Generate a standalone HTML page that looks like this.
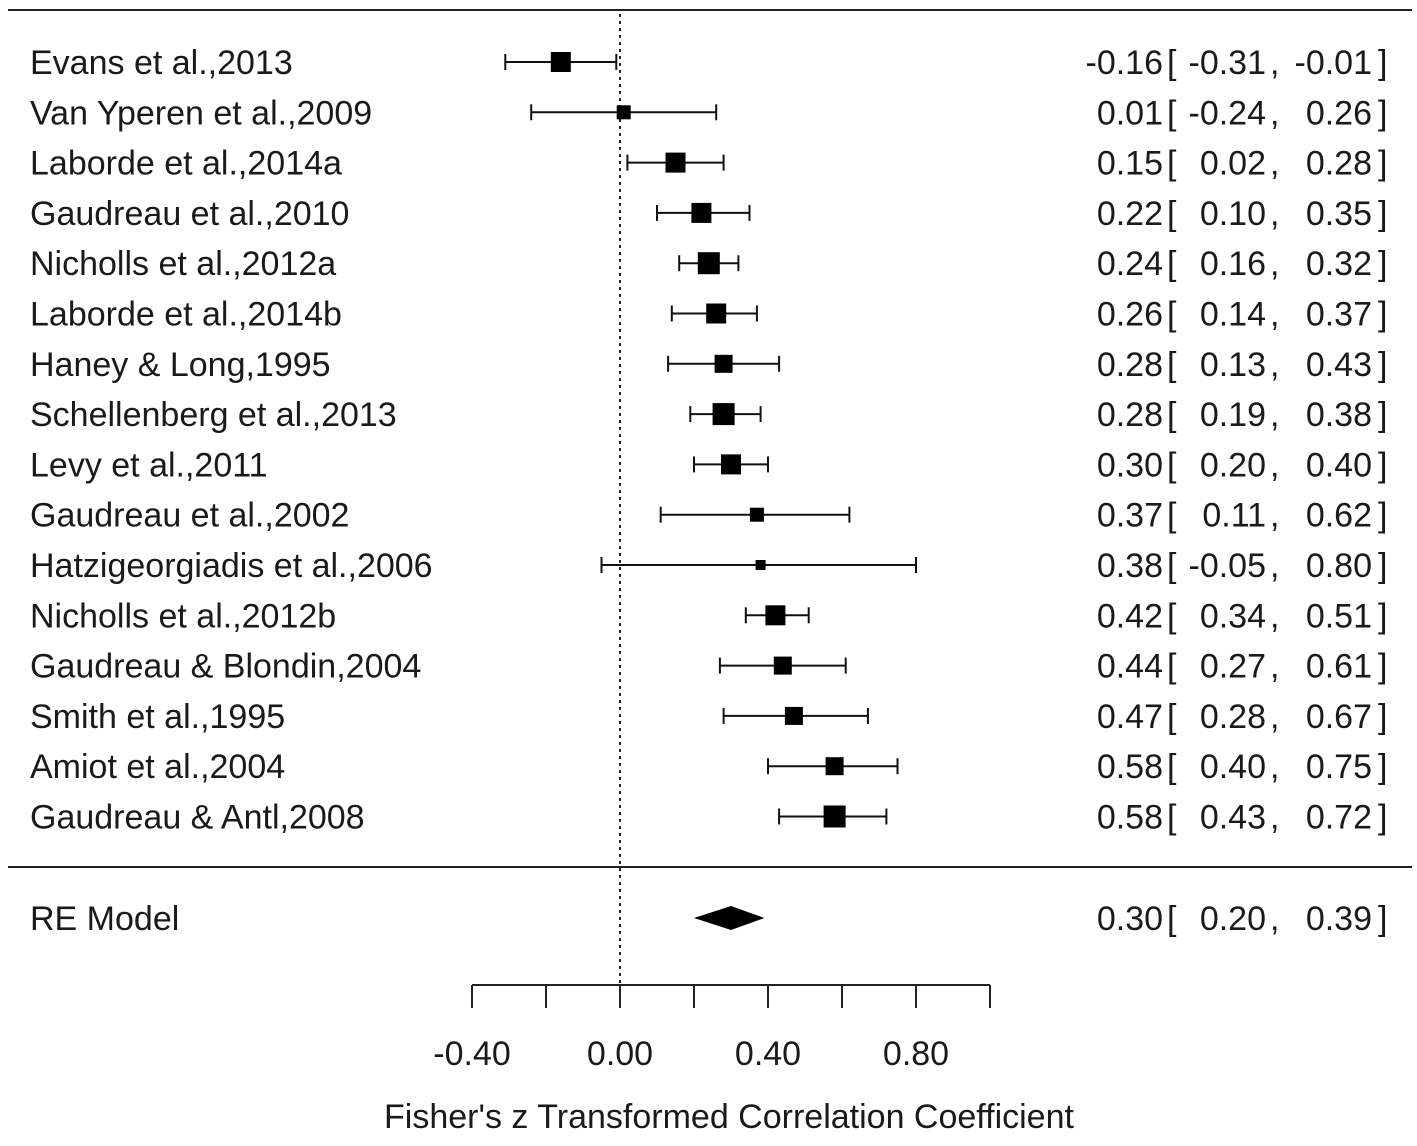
<!DOCTYPE html>
<html><head><meta charset="utf-8"><style>
html,body{margin:0;padding:0;background:#fff;}
svg text{font-family:"Liberation Sans",Arial,sans-serif;fill:#1a1a1a;}
</style></head><body>
<svg id="chart" width="1417" height="1141" viewBox="0 0 1417 1141" xmlns="http://www.w3.org/2000/svg">
<line x1="8" y1="10" x2="1412" y2="10" stroke="#222" stroke-width="2"/>
<line x1="8" y1="867" x2="1412" y2="867" stroke="#222" stroke-width="2"/>
</svg>
<script>
const studies=["Evans et al.,2013","Van Yperen et al.,2009","Laborde et al.,2014a","Gaudreau et al.,2010","Nicholls et al.,2012a","Laborde et al.,2014b","Haney & Long,1995","Schellenberg et al.,2013","Levy et al.,2011","Gaudreau et al.,2002","Hatzigeorgiadis et al.,2006","Nicholls et al.,2012b","Gaudreau & Blondin,2004","Smith et al.,1995","Amiot et al.,2004","Gaudreau & Antl,2008"];
const estimates=[-0.16,0.01,0.15,0.22,0.24,0.26,0.28,0.28,0.30,0.37,0.38,0.42,0.44,0.47,0.58,0.58];
const lower=[-0.31,-0.24,0.02,0.10,0.16,0.14,0.13,0.19,0.20,0.11,-0.05,0.34,0.27,0.28,0.40,0.43];
const upper=[-0.01,0.26,0.28,0.35,0.32,0.37,0.43,0.38,0.40,0.62,0.80,0.51,0.61,0.67,0.75,0.72];
const weights=[10,7,10,10,11,10,9,11,10,7,5,10,9,9,9,11];
const summary={est:0.30,lo:0.20,hi:0.39};
const ticks=[-0.4,-0.2,0,0.2,0.4,0.6,0.8,1.0];
const tickLabels=["-0.40","0.00","0.40","0.80"];
const tickLabelVals=[-0.4,0,0.4,0.8];

const NS="http://www.w3.org/2000/svg";
const svg=document.getElementById('chart');
const X=v=>620+v*370;
const Y=i=>62+i*50.3;
function mk(tag,attrs){const e=document.createElementNS(NS,tag);for(const k in attrs)e.setAttribute(k,attrs[k]);svg.appendChild(e);return e;}
const fmt=v=>(v<0?"-":"")+Math.abs(v).toFixed(2);
const FS=34;

function valueCols(y,e,lo,hi){
  const parts=[[fmt(e),1163,'end'],["[",1167,'start'],[fmt(lo),1266,'end'],[",",1270,'start'],[fmt(hi),1372,'end'],["]",1378,'start']];
  parts.forEach(p=>{let t=mk('text',{x:p[1],y:y+12,'font-size':FS,'text-anchor':p[2]});t.textContent=p[0];
    
    });
}

let ref=mk('line',{x1:X(0),y1:14,x2:X(0),y2:985,stroke:'#222','stroke-width':2,'stroke-dasharray':'3,4'});



studies.forEach((s,i)=>{
  const y=Y(i);
  let t=mk('text',{x:30,y:y+12,'font-size':FS,textLength:null});t.removeAttribute('textLength');t.textContent=s;
  
  
  let l=mk('line',{x1:X(lower[i]),y1:y,x2:X(upper[i]),y2:y,stroke:'#111','stroke-width':2});
  
  
  [lower[i],upper[i]].forEach(v=>{let c=mk('line',{x1:X(v),y1:y-8,x2:X(v),y2:y+8,stroke:'#111','stroke-width':2});
    
    });
  const w=weights[i];
  let r=mk('rect',{x:X(estimates[i])-w,y:y-w,width:2*w,height:2*w,fill:'#000'});
  
  
  valueCols(y,estimates[i],lower[i],upper[i]);
});

const sy=918;
let rl=mk('text',{x:30,y:sy+12,'font-size':FS});rl.textContent="RE Model";


let d=mk('polygon',{points:`${X(summary.lo)},${sy} ${X(summary.est)},${sy-12} ${X(summary.hi)},${sy} ${X(summary.est)},${sy+12}`,fill:'#000'});


valueCols(sy,summary.est,summary.lo,summary.hi);

let ax=mk('line',{x1:X(ticks[0]),y1:985,x2:X(ticks[ticks.length-1]),y2:985,stroke:'#222','stroke-width':2});


ticks.forEach(v=>{let t=mk('line',{x1:X(v),y1:985,x2:X(v),y2:1008,stroke:'#222','stroke-width':2});
  
  });
tickLabelVals.forEach((v,i)=>{let t=mk('text',{x:X(v),y:1065,'font-size':FS,'text-anchor':'middle'});t.textContent=tickLabels[i];
  
  });
let ttl=mk('text',{x:729,y:1128,'font-size':FS,'text-anchor':'middle'});
ttl.textContent="Fisher's z Transformed Correlation Coefficient";


</script>
</body></html>
